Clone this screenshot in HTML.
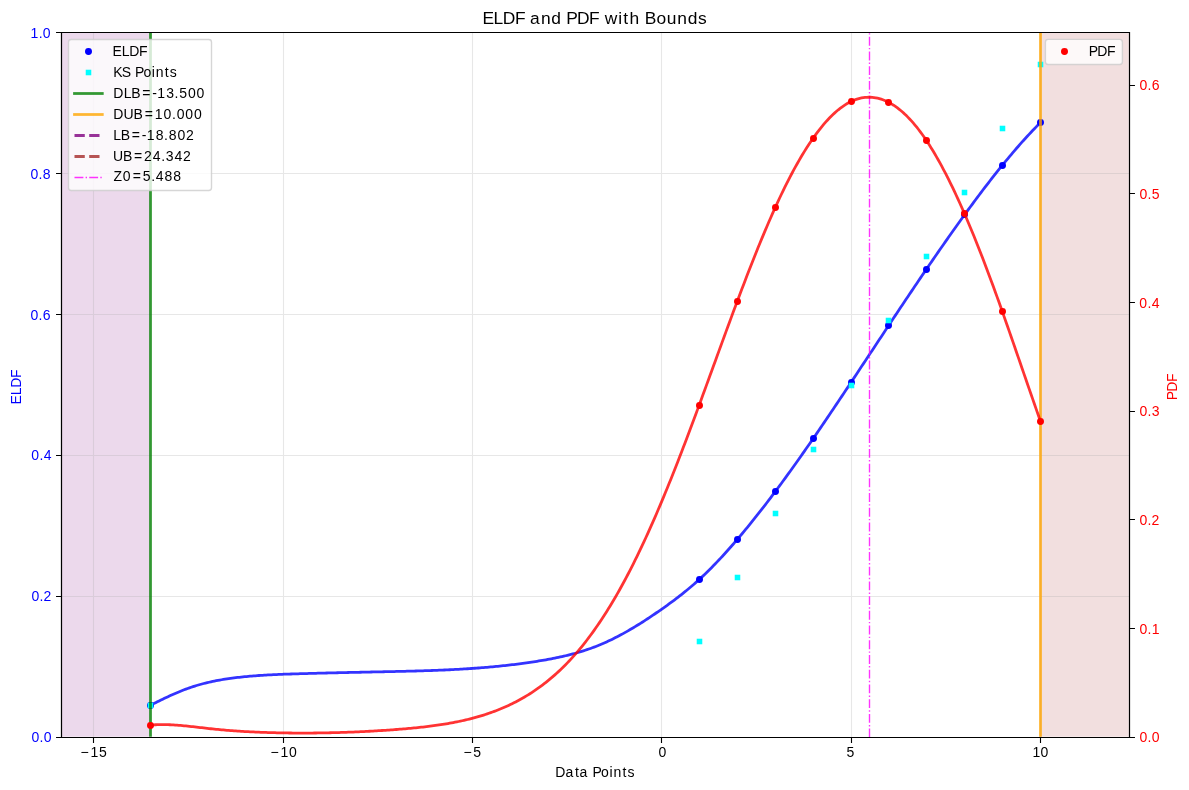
<!DOCTYPE html><html><head><meta charset="utf-8"><title>ELDF and PDF with Bounds</title><style>html,body{margin:0;padding:0;background:#fff;}svg{display:block;will-change:transform;}text{font-family:"Liberation Sans",sans-serif;}</style></head><body>
<svg width="1189" height="790" viewBox="0 0 1189 790">
<rect x="0" y="0" width="1189" height="790" fill="#ffffff"/>
<defs><clipPath id="ax"><rect x="61" y="32" width="1069" height="706"/></clipPath></defs>
<rect x="61.28" y="32.33" width="88.95" height="704.39" fill="#800080" fill-opacity="0.15"/>
<rect x="1039.77" y="32.33" width="88.95" height="704.39" fill="#a52a2a" fill-opacity="0.15"/>
<path d="M93.5 32.5V737.5M283.5 32.5V737.5M472.5 32.5V737.5M661.5 32.5V737.5M851.5 32.5V737.5M1040.5 32.5V737.5M61.5 737.5H1129.5M61.5 596.5H1129.5M61.5 455.5H1129.5M61.5 314.5H1129.5M61.5 173.5H1129.5M61.5 32.5H1129.5" stroke="#b0b0b0" stroke-opacity="0.3" stroke-width="1.111" fill="none" clip-path="url(#ax)"/>
<path d="M93.5 737.5v5.46M283.5 737.5v5.46M472.5 737.5v5.46M661.5 737.5v5.46M851.5 737.5v5.46M1040.5 737.5v5.46M61.5 737.5h-5.46M61.5 596.5h-5.46M61.5 455.5h-5.46M61.5 314.5h-5.46M61.5 173.5h-5.46M61.5 32.5h-5.46" stroke="#000" stroke-width="1.111" fill="none"/>
<path d="M150.23 705.38 L152.02 704.50 L153.80 703.61 L155.58 702.73 L157.36 701.85 L159.15 700.97 L160.93 700.10 L162.71 699.23 L164.49 698.37 L166.28 697.52 L168.06 696.68 L169.84 695.85 L171.62 695.03 L173.41 694.23 L175.19 693.44 L176.97 692.67 L178.76 691.92 L180.54 691.18 L182.32 690.46 L184.10 689.77 L185.89 689.09 L187.67 688.44 L189.45 687.82 L191.23 687.21 L193.02 686.62 L194.80 686.06 L196.58 685.52 L198.36 684.99 L200.15 684.49 L201.93 684.00 L203.71 683.53 L205.49 683.08 L207.28 682.65 L209.06 682.23 L210.84 681.83 L212.63 681.45 L214.41 681.08 L216.19 680.72 L217.97 680.39 L219.76 680.06 L221.54 679.75 L223.32 679.45 L225.10 679.16 L226.89 678.89 L228.67 678.63 L230.45 678.38 L232.23 678.13 L234.02 677.90 L235.80 677.68 L237.58 677.47 L239.36 677.27 L241.15 677.07 L242.93 676.88 L244.71 676.70 L246.50 676.53 L248.28 676.37 L250.06 676.21 L251.84 676.06 L253.63 675.91 L255.41 675.77 L257.19 675.64 L258.97 675.51 L260.76 675.39 L262.54 675.28 L264.32 675.16 L266.10 675.06 L267.89 674.96 L269.67 674.86 L271.45 674.77 L273.23 674.68 L275.02 674.60 L276.80 674.52 L278.58 674.44 L280.37 674.37 L282.15 674.30 L283.93 674.23 L285.71 674.17 L287.50 674.11 L289.28 674.04 L291.06 673.99 L292.84 673.93 L294.63 673.87 L296.41 673.82 L298.19 673.77 L299.97 673.72 L301.76 673.67 L303.54 673.61 L305.32 673.56 L307.10 673.52 L308.89 673.47 L310.67 673.42 L312.45 673.37 L314.24 673.32 L316.02 673.28 L317.80 673.23 L319.58 673.19 L321.37 673.14 L323.15 673.10 L324.93 673.05 L326.71 673.01 L328.50 672.96 L330.28 672.92 L332.06 672.88 L333.84 672.84 L335.63 672.79 L337.41 672.75 L339.19 672.71 L340.97 672.67 L342.76 672.63 L344.54 672.59 L346.32 672.55 L348.11 672.51 L349.89 672.47 L351.67 672.43 L353.45 672.39 L355.24 672.35 L357.02 672.32 L358.80 672.28 L360.58 672.24 L362.37 672.20 L364.15 672.16 L365.93 672.12 L367.71 672.09 L369.50 672.05 L371.28 672.01 L373.06 671.98 L374.84 671.94 L376.63 671.90 L378.41 671.86 L380.19 671.83 L381.98 671.79 L383.76 671.75 L385.54 671.71 L387.32 671.68 L389.11 671.64 L390.89 671.60 L392.67 671.56 L394.45 671.52 L396.24 671.48 L398.02 671.44 L399.80 671.40 L401.58 671.36 L403.37 671.32 L405.15 671.28 L406.93 671.23 L408.71 671.19 L410.50 671.14 L412.28 671.09 L414.06 671.05 L415.85 671.00 L417.63 670.95 L419.41 670.89 L421.19 670.84 L422.98 670.78 L424.76 670.73 L426.54 670.67 L428.32 670.61 L430.11 670.55 L431.89 670.49 L433.67 670.42 L435.45 670.35 L437.24 670.28 L439.02 670.21 L440.80 670.14 L442.58 670.06 L444.37 669.99 L446.15 669.91 L447.93 669.82 L449.72 669.74 L451.50 669.65 L453.28 669.56 L455.06 669.47 L456.85 669.37 L458.63 669.28 L460.41 669.17 L462.19 669.07 L463.98 668.96 L465.76 668.85 L467.54 668.74 L469.32 668.63 L471.11 668.51 L472.89 668.38 L474.67 668.26 L476.45 668.13 L478.24 668.00 L480.02 667.86 L481.80 667.72 L483.59 667.58 L485.37 667.43 L487.15 667.28 L488.93 667.12 L490.72 666.97 L492.50 666.80 L494.28 666.64 L496.06 666.47 L497.85 666.29 L499.63 666.11 L501.41 665.93 L503.19 665.74 L504.98 665.55 L506.76 665.35 L508.54 665.15 L510.32 664.94 L512.11 664.73 L513.89 664.52 L515.67 664.30 L517.46 664.07 L519.24 663.84 L521.02 663.61 L522.80 663.37 L524.59 663.12 L526.37 662.87 L528.15 662.62 L529.93 662.36 L531.72 662.09 L533.50 661.82 L535.28 661.54 L537.06 661.26 L538.85 660.97 L540.63 660.68 L542.41 660.38 L544.19 660.07 L545.98 659.76 L547.76 659.44 L549.54 659.11 L551.33 658.78 L553.11 658.43 L554.89 658.08 L556.67 657.72 L558.46 657.35 L560.24 656.96 L562.02 656.57 L563.80 656.16 L565.59 655.75 L567.37 655.32 L569.15 654.88 L570.93 654.42 L572.72 653.95 L574.50 653.47 L576.28 652.98 L578.06 652.47 L579.85 651.94 L581.63 651.40 L583.41 650.84 L585.20 650.26 L586.98 649.67 L588.76 649.06 L590.54 648.44 L592.33 647.79 L594.11 647.13 L595.89 646.44 L597.67 645.74 L599.46 645.02 L601.24 644.27 L603.02 643.51 L604.80 642.72 L606.59 641.92 L608.37 641.10 L610.15 640.25 L611.94 639.39 L613.72 638.51 L615.50 637.61 L617.28 636.70 L619.07 635.76 L620.85 634.81 L622.63 633.85 L624.41 632.86 L626.20 631.86 L627.98 630.85 L629.76 629.82 L631.54 628.77 L633.33 627.71 L635.11 626.64 L636.89 625.55 L638.67 624.45 L640.46 623.34 L642.24 622.21 L644.02 621.07 L645.81 619.92 L647.59 618.75 L649.37 617.58 L651.15 616.39 L652.94 615.20 L654.72 613.99 L656.50 612.77 L658.28 611.54 L660.07 610.31 L661.85 609.06 L663.63 607.81 L665.41 606.54 L667.20 605.26 L668.98 603.97 L670.76 602.67 L672.54 601.36 L674.33 600.03 L676.11 598.68 L677.89 597.32 L679.68 595.94 L681.46 594.54 L683.24 593.13 L685.02 591.69 L686.81 590.24 L688.59 588.77 L690.37 587.27 L692.15 585.75 L693.94 584.21 L695.72 582.64 L697.50 581.05 L699.28 579.44 L701.07 577.80 L702.85 576.13 L704.63 574.44 L706.41 572.72 L708.20 570.97 L709.98 569.21 L711.76 567.41 L713.55 565.60 L715.33 563.76 L717.11 561.90 L718.89 560.02 L720.68 558.11 L722.46 556.19 L724.24 554.24 L726.02 552.28 L727.81 550.29 L729.59 548.29 L731.37 546.27 L733.15 544.23 L734.94 542.17 L736.72 540.09 L738.50 538.00 L740.28 535.89 L742.07 533.77 L743.85 531.63 L745.63 529.47 L747.42 527.30 L749.20 525.12 L750.98 522.92 L752.76 520.70 L754.55 518.47 L756.33 516.23 L758.11 513.97 L759.89 511.70 L761.68 509.42 L763.46 507.12 L765.24 504.81 L767.02 502.49 L768.81 500.15 L770.59 497.80 L772.37 495.44 L774.15 493.07 L775.94 490.69 L777.72 488.29 L779.50 485.88 L781.29 483.47 L783.07 481.04 L784.85 478.60 L786.63 476.15 L788.42 473.69 L790.20 471.22 L791.98 468.73 L793.76 466.24 L795.55 463.74 L797.33 461.24 L799.11 458.72 L800.89 456.19 L802.68 453.65 L804.46 451.11 L806.24 448.56 L808.02 446.00 L809.81 443.43 L811.59 440.86 L813.37 438.27 L815.16 435.68 L816.94 433.09 L818.72 430.48 L820.50 427.87 L822.29 425.26 L824.07 422.64 L825.85 420.01 L827.63 417.37 L829.42 414.74 L831.20 412.09 L832.98 409.44 L834.76 406.79 L836.55 404.13 L838.33 401.47 L840.11 398.81 L841.89 396.14 L843.68 393.46 L845.46 390.79 L847.24 388.11 L849.03 385.42 L850.81 382.74 L852.59 380.05 L854.37 377.36 L856.16 374.67 L857.94 371.98 L859.72 369.28 L861.50 366.58 L863.29 363.89 L865.07 361.19 L866.85 358.49 L868.63 355.79 L870.42 353.09 L872.20 350.39 L873.98 347.69 L875.76 344.99 L877.55 342.29 L879.33 339.59 L881.11 336.89 L882.90 334.20 L884.68 331.50 L886.46 328.81 L888.24 326.12 L890.03 323.43 L891.81 320.74 L893.59 318.05 L895.37 315.37 L897.16 312.69 L898.94 310.01 L900.72 307.34 L902.50 304.67 L904.29 302.00 L906.07 299.33 L907.85 296.67 L909.63 294.01 L911.42 291.36 L913.20 288.71 L914.98 286.06 L916.77 283.42 L918.55 280.79 L920.33 278.15 L922.11 275.53 L923.90 272.90 L925.68 270.29 L927.46 267.67 L929.24 265.07 L931.03 262.47 L932.81 259.87 L934.59 257.28 L936.37 254.70 L938.16 252.12 L939.94 249.55 L941.72 246.99 L943.50 244.43 L945.29 241.88 L947.07 239.34 L948.85 236.80 L950.64 234.27 L952.42 231.75 L954.20 229.24 L955.98 226.74 L957.77 224.24 L959.55 221.75 L961.33 219.27 L963.11 216.80 L964.90 214.34 L966.68 211.89 L968.46 209.44 L970.24 207.01 L972.03 204.59 L973.81 202.18 L975.59 199.77 L977.37 197.38 L979.16 195.01 L980.94 192.64 L982.72 190.28 L984.51 187.94 L986.29 185.61 L988.07 183.30 L989.85 180.99 L991.64 178.70 L993.42 176.43 L995.20 174.17 L996.98 171.92 L998.77 169.69 L1000.55 167.48 L1002.33 165.28 L1004.11 163.09 L1005.90 160.92 L1007.68 158.77 L1009.46 156.64 L1011.24 154.52 L1013.03 152.42 L1014.81 150.34 L1016.59 148.27 L1018.38 146.23 L1020.16 144.20 L1021.94 142.19 L1023.72 140.20 L1025.51 138.24 L1027.29 136.29 L1029.07 134.36 L1030.85 132.45 L1032.64 130.56 L1034.42 128.70 L1036.20 126.85 L1037.98 125.03 L1039.77 123.23" stroke="#0000ff" stroke-opacity="0.8" stroke-width="2.778" fill="none" stroke-linejoin="round" clip-path="url(#ax)"/>
<circle cx="150.5" cy="705.5" r="2.778" fill="#0000ff" stroke="#0000ff" stroke-width="1.389"/>
<circle cx="699.5" cy="579.5" r="2.778" fill="#0000ff" stroke="#0000ff" stroke-width="1.389"/>
<circle cx="737.5" cy="539.5" r="2.778" fill="#0000ff" stroke="#0000ff" stroke-width="1.389"/>
<circle cx="775.5" cy="491.5" r="2.778" fill="#0000ff" stroke="#0000ff" stroke-width="1.389"/>
<circle cx="813.5" cy="438.5" r="2.778" fill="#0000ff" stroke="#0000ff" stroke-width="1.389"/>
<circle cx="851.5" cy="382.5" r="2.778" fill="#0000ff" stroke="#0000ff" stroke-width="1.389"/>
<circle cx="888.5" cy="325.5" r="2.778" fill="#0000ff" stroke="#0000ff" stroke-width="1.389"/>
<circle cx="926.5" cy="269.5" r="2.778" fill="#0000ff" stroke="#0000ff" stroke-width="1.389"/>
<circle cx="964.5" cy="214.5" r="2.778" fill="#0000ff" stroke="#0000ff" stroke-width="1.389"/>
<circle cx="1002.5" cy="165.5" r="2.778" fill="#0000ff" stroke="#0000ff" stroke-width="1.389"/>
<circle cx="1040.5" cy="122.5" r="2.778" fill="#0000ff" stroke="#0000ff" stroke-width="1.389"/>
<rect x="148.42" y="703.42" width="4.17" height="4.17" fill="#00ffff" stroke="#00ffff" stroke-width="1.389"/>
<rect x="697.42" y="639.42" width="4.17" height="4.17" fill="#00ffff" stroke="#00ffff" stroke-width="1.389"/>
<rect x="735.42" y="575.42" width="4.17" height="4.17" fill="#00ffff" stroke="#00ffff" stroke-width="1.389"/>
<rect x="773.42" y="511.42" width="4.17" height="4.17" fill="#00ffff" stroke="#00ffff" stroke-width="1.389"/>
<rect x="811.42" y="447.42" width="4.17" height="4.17" fill="#00ffff" stroke="#00ffff" stroke-width="1.389"/>
<rect x="849.42" y="383.42" width="4.17" height="4.17" fill="#00ffff" stroke="#00ffff" stroke-width="1.389"/>
<rect x="886.42" y="318.42" width="4.17" height="4.17" fill="#00ffff" stroke="#00ffff" stroke-width="1.389"/>
<rect x="924.42" y="254.42" width="4.17" height="4.17" fill="#00ffff" stroke="#00ffff" stroke-width="1.389"/>
<rect x="962.42" y="190.42" width="4.17" height="4.17" fill="#00ffff" stroke="#00ffff" stroke-width="1.389"/>
<rect x="1000.42" y="126.42" width="4.17" height="4.17" fill="#00ffff" stroke="#00ffff" stroke-width="1.389"/>
<rect x="1038.42" y="62.42" width="4.17" height="4.17" fill="#00ffff" stroke="#00ffff" stroke-width="1.389"/>
<path d="M150.5 736.72V32.33" stroke="#008000" stroke-opacity="0.8" stroke-width="2.778"/>
<path d="M1040.5 736.72V32.33" stroke="#ffa500" stroke-opacity="0.8" stroke-width="2.778"/>
<path d="M869.5 737.5V32.33" stroke="#ff00ff" stroke-opacity="0.8" stroke-width="1.389" stroke-dasharray="8.89 2.22 1.39 2.22"/>
<path d="M61.5 32.5H1129.5V737.5H61.5Z" stroke="#000" stroke-width="1.111" fill="none" stroke-linejoin="miter"/>
<rect x="68.5" y="39.5" width="143.00" height="151.00" rx="2.78" fill="#ffffff" fill-opacity="0.8" stroke="#cccccc" stroke-opacity="0.8" stroke-width="1.389"/>
<circle cx="88.5" cy="51.5" r="2.778" fill="#0000ff" stroke="#0000ff" stroke-width="1.389"/>
<rect x="86.42" y="70.42" width="4.17" height="4.17" fill="#00ffff" stroke="#00ffff" stroke-width="1.389"/>
<path d="M74.5 93.5H102.28" stroke="#008000" stroke-opacity="0.8" stroke-width="2.778" stroke-linecap="square"/>
<path d="M74.5 114.5H102.28" stroke="#ffa500" stroke-opacity="0.8" stroke-width="2.778" stroke-linecap="square"/>
<path d="M74.5 135.5H102.28" stroke="#800080" stroke-opacity="0.8" stroke-width="2.778" stroke-dasharray="10.28 4.44"/>
<path d="M74.5 156.5H102.28" stroke="#a52a2a" stroke-opacity="0.8" stroke-width="2.778" stroke-dasharray="10.28 4.44"/>
<path d="M74.5 177.5H102.28" stroke="#ff00ff" stroke-opacity="0.8" stroke-width="1.389" stroke-dasharray="8.89 2.22 1.39 2.22"/>
<path d="M150.23 725.22 L152.02 725.03 L153.80 724.88 L155.58 724.76 L157.36 724.67 L159.15 724.61 L160.93 724.58 L162.71 724.57 L164.49 724.58 L166.28 724.62 L168.06 724.67 L169.84 724.75 L171.62 724.84 L173.41 724.94 L175.19 725.06 L176.97 725.19 L178.76 725.33 L180.54 725.47 L182.32 725.63 L184.10 725.80 L185.89 725.97 L187.67 726.15 L189.45 726.34 L191.23 726.53 L193.02 726.72 L194.80 726.92 L196.58 727.13 L198.36 727.33 L200.15 727.54 L201.93 727.74 L203.71 727.95 L205.49 728.15 L207.28 728.35 L209.06 728.56 L210.84 728.75 L212.63 728.95 L214.41 729.13 L216.19 729.32 L217.97 729.49 L219.76 729.66 L221.54 729.83 L223.32 729.99 L225.10 730.14 L226.89 730.29 L228.67 730.44 L230.45 730.58 L232.23 730.71 L234.02 730.84 L235.80 730.97 L237.58 731.09 L239.36 731.20 L241.15 731.31 L242.93 731.42 L244.71 731.52 L246.50 731.62 L248.28 731.72 L250.06 731.81 L251.84 731.90 L253.63 731.98 L255.41 732.06 L257.19 732.14 L258.97 732.21 L260.76 732.28 L262.54 732.35 L264.32 732.41 L266.10 732.47 L267.89 732.53 L269.67 732.59 L271.45 732.64 L273.23 732.69 L275.02 732.73 L276.80 732.77 L278.58 732.81 L280.37 732.85 L282.15 732.88 L283.93 732.91 L285.71 732.94 L287.50 732.97 L289.28 732.99 L291.06 733.01 L292.84 733.03 L294.63 733.04 L296.41 733.05 L298.19 733.06 L299.97 733.06 L301.76 733.07 L303.54 733.07 L305.32 733.06 L307.10 733.06 L308.89 733.05 L310.67 733.04 L312.45 733.03 L314.24 733.01 L316.02 732.99 L317.80 732.97 L319.58 732.95 L321.37 732.92 L323.15 732.89 L324.93 732.86 L326.71 732.83 L328.50 732.79 L330.28 732.75 L332.06 732.71 L333.84 732.67 L335.63 732.62 L337.41 732.57 L339.19 732.52 L340.97 732.47 L342.76 732.41 L344.54 732.35 L346.32 732.29 L348.11 732.23 L349.89 732.16 L351.67 732.09 L353.45 732.02 L355.24 731.94 L357.02 731.87 L358.80 731.79 L360.58 731.70 L362.37 731.62 L364.15 731.53 L365.93 731.44 L367.71 731.35 L369.50 731.25 L371.28 731.15 L373.06 731.05 L374.84 730.95 L376.63 730.84 L378.41 730.73 L380.19 730.62 L381.98 730.51 L383.76 730.39 L385.54 730.27 L387.32 730.15 L389.11 730.02 L390.89 729.90 L392.67 729.77 L394.45 729.63 L396.24 729.50 L398.02 729.36 L399.80 729.22 L401.58 729.07 L403.37 728.93 L405.15 728.78 L406.93 728.62 L408.71 728.47 L410.50 728.31 L412.28 728.14 L414.06 727.97 L415.85 727.80 L417.63 727.62 L419.41 727.43 L421.19 727.24 L422.98 727.05 L424.76 726.84 L426.54 726.63 L428.32 726.42 L430.11 726.20 L431.89 725.97 L433.67 725.73 L435.45 725.49 L437.24 725.24 L439.02 724.98 L440.80 724.71 L442.58 724.43 L444.37 724.14 L446.15 723.85 L447.93 723.54 L449.72 723.23 L451.50 722.91 L453.28 722.57 L455.06 722.23 L456.85 721.87 L458.63 721.50 L460.41 721.13 L462.19 720.74 L463.98 720.34 L465.76 719.92 L467.54 719.50 L469.32 719.06 L471.11 718.61 L472.89 718.14 L474.67 717.67 L476.45 717.18 L478.24 716.67 L480.02 716.15 L481.80 715.61 L483.59 715.06 L485.37 714.49 L487.15 713.91 L488.93 713.30 L490.72 712.68 L492.50 712.05 L494.28 711.39 L496.06 710.71 L497.85 710.02 L499.63 709.31 L501.41 708.57 L503.19 707.81 L504.98 707.04 L506.76 706.24 L508.54 705.42 L510.32 704.58 L512.11 703.71 L513.89 702.82 L515.67 701.91 L517.46 700.97 L519.24 700.01 L521.02 699.02 L522.80 698.01 L524.59 696.97 L526.37 695.91 L528.15 694.82 L529.93 693.70 L531.72 692.55 L533.50 691.38 L535.28 690.17 L537.06 688.94 L538.85 687.67 L540.63 686.38 L542.41 685.05 L544.19 683.70 L545.98 682.30 L547.76 680.88 L549.54 679.42 L551.33 677.93 L553.11 676.41 L554.89 674.84 L556.67 673.25 L558.46 671.61 L560.24 669.94 L562.02 668.23 L563.80 666.48 L565.59 664.70 L567.37 662.87 L569.15 661.00 L570.93 659.09 L572.72 657.14 L574.50 655.15 L576.28 653.12 L578.06 651.04 L579.85 648.92 L581.63 646.76 L583.41 644.55 L585.20 642.29 L586.98 640.00 L588.76 637.65 L590.54 635.26 L592.33 632.83 L594.11 630.35 L595.89 627.82 L597.67 625.25 L599.46 622.63 L601.24 619.96 L603.02 617.25 L604.80 614.49 L606.59 611.68 L608.37 608.83 L610.15 605.93 L611.94 602.98 L613.72 599.98 L615.50 596.94 L617.28 593.85 L619.07 590.71 L620.85 587.52 L622.63 584.28 L624.41 580.99 L626.20 577.66 L627.98 574.27 L629.76 570.83 L631.54 567.35 L633.33 563.82 L635.11 560.23 L636.89 556.60 L638.67 552.93 L640.46 549.20 L642.24 545.43 L644.02 541.62 L645.81 537.76 L647.59 533.85 L649.37 529.91 L651.15 525.92 L652.94 521.89 L654.72 517.82 L656.50 513.70 L658.28 509.55 L660.07 505.36 L661.85 501.13 L663.63 496.86 L665.41 492.56 L667.20 488.22 L668.98 483.84 L670.76 479.43 L672.54 474.98 L674.33 470.50 L676.11 465.99 L677.89 461.44 L679.68 456.86 L681.46 452.25 L683.24 447.61 L685.02 442.95 L686.81 438.25 L688.59 433.54 L690.37 428.80 L692.15 424.03 L693.94 419.25 L695.72 414.45 L697.50 409.63 L699.28 404.80 L701.07 399.96 L702.85 395.10 L704.63 390.23 L706.41 385.36 L708.20 380.47 L709.98 375.59 L711.76 370.69 L713.55 365.80 L715.33 360.91 L717.11 356.01 L718.89 351.12 L720.68 346.24 L722.46 341.36 L724.24 336.49 L726.02 331.63 L727.81 326.78 L729.59 321.94 L731.37 317.12 L733.15 312.31 L734.94 307.52 L736.72 302.75 L738.50 298.00 L740.28 293.27 L742.07 288.57 L743.85 283.89 L745.63 279.24 L747.42 274.62 L749.20 270.03 L750.98 265.47 L752.76 260.95 L754.55 256.46 L756.33 252.01 L758.11 247.59 L759.89 243.22 L761.68 238.89 L763.46 234.61 L765.24 230.36 L767.02 226.17 L768.81 222.02 L770.59 217.93 L772.37 213.88 L774.15 209.89 L775.94 205.96 L777.72 202.08 L779.50 198.26 L781.29 194.50 L783.07 190.80 L784.85 187.16 L786.63 183.59 L788.42 180.07 L790.20 176.62 L791.98 173.24 L793.76 169.92 L795.55 166.66 L797.33 163.47 L799.11 160.35 L800.89 157.29 L802.68 154.30 L804.46 151.39 L806.24 148.54 L808.02 145.76 L809.81 143.05 L811.59 140.41 L813.37 137.84 L815.16 135.35 L816.94 132.92 L818.72 130.58 L820.50 128.30 L822.29 126.11 L824.07 123.98 L825.85 121.94 L827.63 119.97 L829.42 118.07 L831.20 116.26 L832.98 114.53 L834.76 112.87 L836.55 111.29 L838.33 109.80 L840.11 108.39 L841.89 107.05 L843.68 105.81 L845.46 104.64 L847.24 103.56 L849.03 102.56 L850.81 101.65 L852.59 100.82 L854.37 100.08 L856.16 99.43 L857.94 98.86 L859.72 98.37 L861.50 97.97 L863.29 97.65 L865.07 97.42 L866.85 97.28 L868.63 97.22 L870.42 97.24 L872.20 97.35 L873.98 97.54 L875.76 97.82 L877.55 98.18 L879.33 98.62 L881.11 99.15 L882.90 99.77 L884.68 100.46 L886.46 101.24 L888.24 102.11 L890.03 103.06 L891.81 104.09 L893.59 105.20 L895.37 106.40 L897.16 107.68 L898.94 109.05 L900.72 110.49 L902.50 112.02 L904.29 113.64 L906.07 115.33 L907.85 117.11 L909.63 118.97 L911.42 120.92 L913.20 122.94 L914.98 125.05 L916.77 127.24 L918.55 129.51 L920.33 131.87 L922.11 134.30 L923.90 136.82 L925.68 139.41 L927.46 142.09 L929.24 144.84 L931.03 147.67 L932.81 150.58 L934.59 153.55 L936.37 156.61 L938.16 159.73 L939.94 162.93 L941.72 166.19 L943.50 169.53 L945.29 172.93 L947.07 176.40 L948.85 179.94 L950.64 183.54 L952.42 187.21 L954.20 190.94 L955.98 194.73 L957.77 198.58 L959.55 202.49 L961.33 206.47 L963.11 210.49 L964.90 214.58 L966.68 218.72 L968.46 222.92 L970.24 227.17 L972.03 231.47 L973.81 235.82 L975.59 240.23 L977.37 244.68 L979.16 249.19 L980.94 253.74 L982.72 258.33 L984.51 262.97 L986.29 267.66 L988.07 272.39 L989.85 277.16 L991.64 281.97 L993.42 286.83 L995.20 291.72 L996.98 296.64 L998.77 301.59 L1000.55 306.58 L1002.33 311.59 L1004.11 316.63 L1005.90 321.70 L1007.68 326.78 L1009.46 331.88 L1011.24 337.00 L1013.03 342.13 L1014.81 347.28 L1016.59 352.43 L1018.38 357.60 L1020.16 362.76 L1021.94 367.94 L1023.72 373.11 L1025.51 378.28 L1027.29 383.44 L1029.07 388.60 L1030.85 393.76 L1032.64 398.90 L1034.42 404.03 L1036.20 409.14 L1037.98 414.24 L1039.77 419.32" stroke="#ff0000" stroke-opacity="0.8" stroke-width="2.778" fill="none" stroke-linejoin="round" clip-path="url(#ax)"/>
<circle cx="150.5" cy="725.5" r="2.778" fill="#ff0000" stroke="#ff0000" stroke-width="1.389"/>
<circle cx="699.5" cy="405.5" r="2.778" fill="#ff0000" stroke="#ff0000" stroke-width="1.389"/>
<circle cx="737.5" cy="301.5" r="2.778" fill="#ff0000" stroke="#ff0000" stroke-width="1.389"/>
<circle cx="775.5" cy="207.5" r="2.778" fill="#ff0000" stroke="#ff0000" stroke-width="1.389"/>
<circle cx="813.5" cy="138.5" r="2.778" fill="#ff0000" stroke="#ff0000" stroke-width="1.389"/>
<circle cx="851.5" cy="101.5" r="2.778" fill="#ff0000" stroke="#ff0000" stroke-width="1.389"/>
<circle cx="888.5" cy="102.5" r="2.778" fill="#ff0000" stroke="#ff0000" stroke-width="1.389"/>
<circle cx="926.5" cy="140.5" r="2.778" fill="#ff0000" stroke="#ff0000" stroke-width="1.389"/>
<circle cx="964.5" cy="213.5" r="2.778" fill="#ff0000" stroke="#ff0000" stroke-width="1.389"/>
<circle cx="1002.5" cy="311.5" r="2.778" fill="#ff0000" stroke="#ff0000" stroke-width="1.389"/>
<circle cx="1040.5" cy="421.5" r="2.778" fill="#ff0000" stroke="#ff0000" stroke-width="1.389"/>
<path d="M1129.5 737.5h5.46M1129.5 628.5h5.46M1129.5 519.5h5.46M1129.5 411.5h5.46M1129.5 302.5h5.46M1129.5 193.5h5.46M1129.5 85.5h5.46" stroke="#000" stroke-width="1.111" fill="none"/>
<path d="M61.5 32.5H1129.5V737.5H61.5Z" stroke="#000" stroke-width="1.111" fill="none" stroke-linejoin="miter"/>
<rect x="1045.4" y="39.4" width="77.00" height="25.10" rx="2.78" fill="#ffffff" fill-opacity="0.8" stroke="#cccccc" stroke-opacity="0.8" stroke-width="1.389"/>
<circle cx="1064.5" cy="51.5" r="2.778" fill="#ff0000" stroke="#ff0000" stroke-width="1.389"/>
<text id="xt-15" x="80.55 90.49 99.00" y="757.00" font-size="14" fill="#000000">−15</text>
<text id="xt-10" x="270.55 280.49 289.04" y="757.00" font-size="14" fill="#000000">−10</text>
<text id="xt-5" x="463.46 473.22" y="756.97" font-size="14" fill="#000000">−5</text>
<text id="xt0" x="658.50" y="756.98" font-size="14" fill="#000000">0</text>
<text id="xt5" x="846.58" y="756.98" font-size="14" fill="#000000">5</text>
<text id="xt10" x="1032.40 1040.57" y="757.00" font-size="14" fill="#000000">10</text>
<text id="yl0.0" x="31.38 39.53 43.76" y="741.98" font-size="14" fill="#0000ff">0.0</text>
<text id="yl0.2" x="31.38 39.54 43.61" y="601.00" font-size="14" fill="#0000ff">0.2</text>
<text id="yl0.4" x="31.37 39.50 43.72" y="459.98" font-size="14" fill="#0000ff">0.4</text>
<text id="yl0.6" x="30.38 38.55 42.80" y="319.98" font-size="14" fill="#0000ff">0.6</text>
<text id="yl0.8" x="30.39 38.57 42.82" y="178.98" font-size="14" fill="#0000ff">0.8</text>
<text id="yl1.0" x="30.44 38.65 42.85" y="38.00" font-size="14" fill="#0000ff">1.0</text>
<text id="yr0.0" x="1139.38 1147.53 1151.76" y="741.98" font-size="14" fill="#ff0000">0.0</text>
<text id="yr0.1" x="1139.41 1147.62 1151.84" y="634.00" font-size="14" fill="#ff0000">0.1</text>
<text id="yr0.2" x="1139.38 1147.54 1151.61" y="525.00" font-size="14" fill="#ff0000">0.2</text>
<text id="yr0.3" x="1139.38 1147.54 1151.79" y="415.98" font-size="14" fill="#ff0000">0.3</text>
<text id="yr0.4" x="1139.37 1147.50 1151.72" y="307.98" font-size="14" fill="#ff0000">0.4</text>
<text id="yr0.5" x="1139.38 1147.54 1151.74" y="198.98" font-size="14" fill="#ff0000">0.5</text>
<text id="yr0.6" x="1139.38 1147.55 1151.80" y="89.98" font-size="14" fill="#ff0000">0.6</text>
<text id="leg0" x="112.60 121.70 129.23 139.02" y="56.00" font-size="14" fill="#000000">ELDF</text>
<text id="leg1" x="113.20 121.85 131.08 134.96 143.38 151.85 155.83 164.80 169.68" y="77.00" font-size="14" fill="#000000">KS Points</text>
<text id="leg2" x="113.27 123.77 131.20 142.22 152.18 157.35 166.14 174.61 179.13 187.88 196.58" y="98.00" font-size="14" fill="#000000">DLB=-13.500</text>
<text id="leg3" x="113.28 123.52 133.60 144.63 154.83 163.60 172.10 176.66 185.37 194.08" y="119.00" font-size="14" fill="#000000">DUB=10.000</text>
<text id="leg4" x="113.24 120.67 131.70 141.67 146.85 155.63 164.12 168.69 177.40 185.94" y="140.00" font-size="14" fill="#000000">LB=-18.802</text>
<text id="leg5" x="112.99 123.01 133.98 144.01 152.84 161.29 165.84 174.48 182.96" y="161.00" font-size="14" fill="#000000">UB=24.342</text>
<text id="leg6" x="113.40 122.77 132.64 142.81 151.31 155.85 164.52 173.18" y="181.00" font-size="14" fill="#000000">Z0=5.488</text>
<text id="legP" x="1088.65 1097.22 1106.92" y="56.00" font-size="14" fill="#000000">PDF</text>
<text id="title" x="482.39 493.61 502.86 514.91 525.25 529.91 540.92 551.30 561.72 566.24 576.90 588.96 599.29 604.82 618.29 623.32 629.44 639.75 644.66 656.42 666.70 677.29 687.67 697.95" y="24.00" font-size="17.4" fill="#000000">ELDF and PDF with Bounds</text>
<text id="xlabel" x="555.36 565.59 575.02 579.58 588.53 592.47 600.95 609.47 613.51 622.55 627.48" y="777.00" font-size="14" fill="#000000">Data Points</text>
<text id="ylabL" transform="rotate(-90)" x="-404.39 -395.30 -387.78 -378.00" y="20.99" font-size="14" fill="#0000ff">ELDF</text>
<text id="ylabR" transform="rotate(-90)" x="-400.35 -391.79 -382.10" y="1176.99" font-size="14" fill="#ff0000">PDF</text>
</svg></body></html>
